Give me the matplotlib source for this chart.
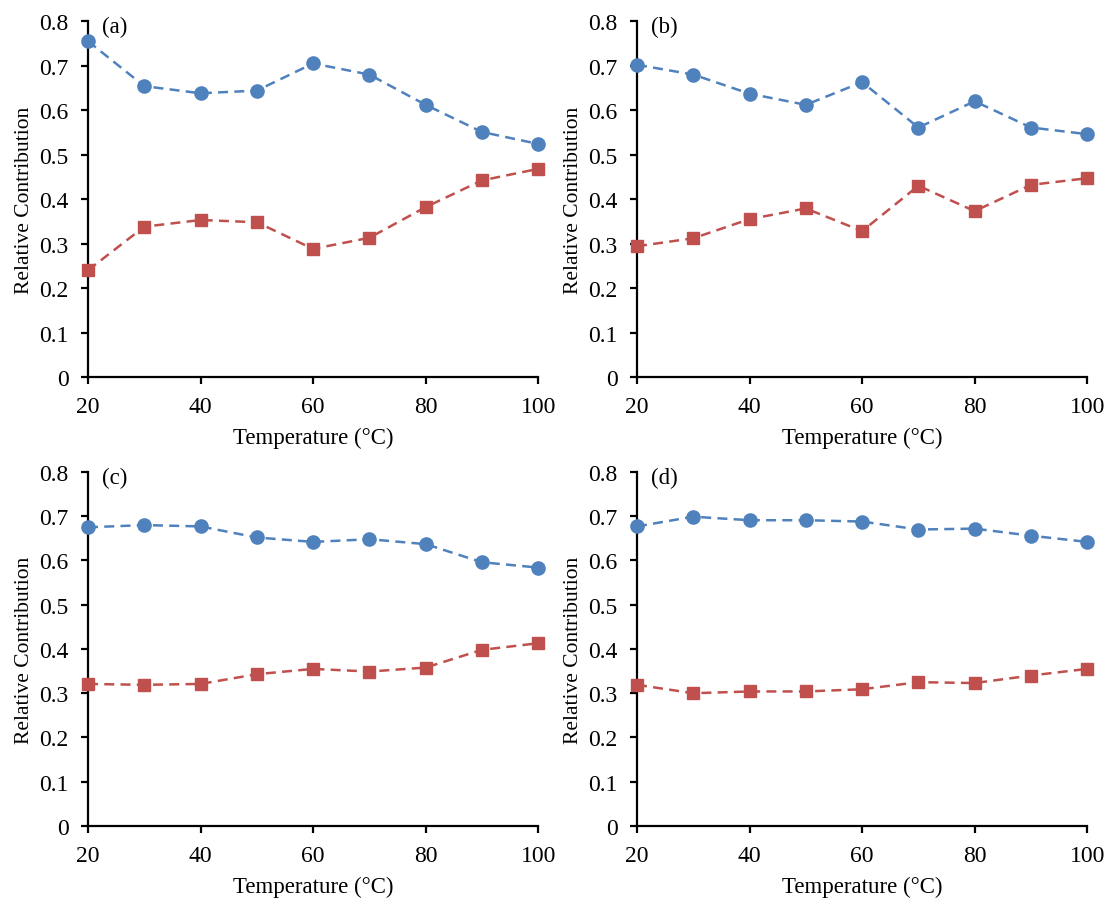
import matplotlib
matplotlib.use("Agg")
import matplotlib.pyplot as plt

plt.rcParams['font.family'] = ['Liberation Serif', 'DejaVu Serif']

temperature = [20, 30, 40, 50, 60, 70, 80, 90, 100]

# blue circles (upper series) per panel
blue_a = [0.755, 0.654, 0.638, 0.644, 0.705, 0.680, 0.612, 0.551, 0.524]
blue_b = [0.702, 0.680, 0.637, 0.612, 0.663, 0.561, 0.620, 0.561, 0.546]
blue_c = [0.675, 0.680, 0.677, 0.652, 0.642, 0.648, 0.637, 0.596, 0.584]
blue_d = [0.677, 0.699, 0.691, 0.691, 0.688, 0.670, 0.672, 0.656, 0.642]

# red squares (lower series) per panel
red_a = [0.240, 0.338, 0.353, 0.348, 0.288, 0.313, 0.382, 0.442, 0.468]
red_b = [0.294, 0.312, 0.355, 0.379, 0.328, 0.430, 0.373, 0.432, 0.447]
red_c = [0.321, 0.319, 0.321, 0.343, 0.355, 0.349, 0.358, 0.398, 0.413]
red_d = [0.319, 0.300, 0.304, 0.304, 0.309, 0.325, 0.323, 0.340, 0.355]

panel_labels = ['(a)', '(b)', '(c)', '(d)']
y_ticks = [0, 0.1, 0.2, 0.3, 0.4, 0.5, 0.6, 0.7, 0.8]
y_tick_labels = ['0', '0.1', '0.2', '0.3', '0.4', '0.5', '0.6', '0.7', '0.8']
x_ticks = [20, 40, 60, 80, 100]

blue = '#4F81BD'
red = '#C0504D'

fig = plt.figure(figsize=(11.17, 9.03), dpi=100)

# axes boxes in figure fractions: left, bottom, width, height
boxes = [
    [0.0788, 0.5814, 0.403, 0.394],
    [0.5703, 0.5814, 0.403, 0.394],
    [0.0788, 0.0842, 0.403, 0.392],
    [0.5703, 0.0842, 0.403, 0.392],
]
blues = [blue_a, blue_b, blue_c, blue_d]
reds = [red_a, red_b, red_c, red_d]

for box, b, r, lab in zip(boxes, blues, reds, panel_labels):
    ax = fig.add_axes(box)
    ax.plot(temperature, b, color=blue, lw=1.8, dashes=(4.0, 2.5),
            marker='o', markersize=9.5, clip_on=False, zorder=3)
    ax.plot(temperature, r, color=red, lw=1.8, dashes=(4.0, 2.5),
            marker='s', markersize=9, clip_on=False, zorder=3)
    ax.set_xlim(20, 100)
    ax.set_ylim(0, 0.8)
    ax.set_xticks(x_ticks)
    ax.set_yticks(y_ticks)
    ax.set_yticklabels(y_tick_labels)
    for s in ['top', 'right']:
        ax.spines[s].set_visible(False)
    for s in ['left', 'bottom']:
        ax.spines[s].set_linewidth(1.6)
        ax.spines[s].set_color('black')
    ax.tick_params(direction='out', length=5, width=1.6, labelsize=17)
    ax.tick_params(axis='x', pad=9)
    ax.tick_params(axis='y', pad=9)
    ax.set_xlabel('Temperature (°C)', fontsize=16.5, labelpad=7)
    ax.set_ylabel('Relative Contribution', fontsize=15.5, labelpad=4)
    ax.text(0.03, 0.985, lab, transform=ax.transAxes, fontsize=16.5,
            ha='left', va='center')

fig.savefig('out.png', dpi=100)
